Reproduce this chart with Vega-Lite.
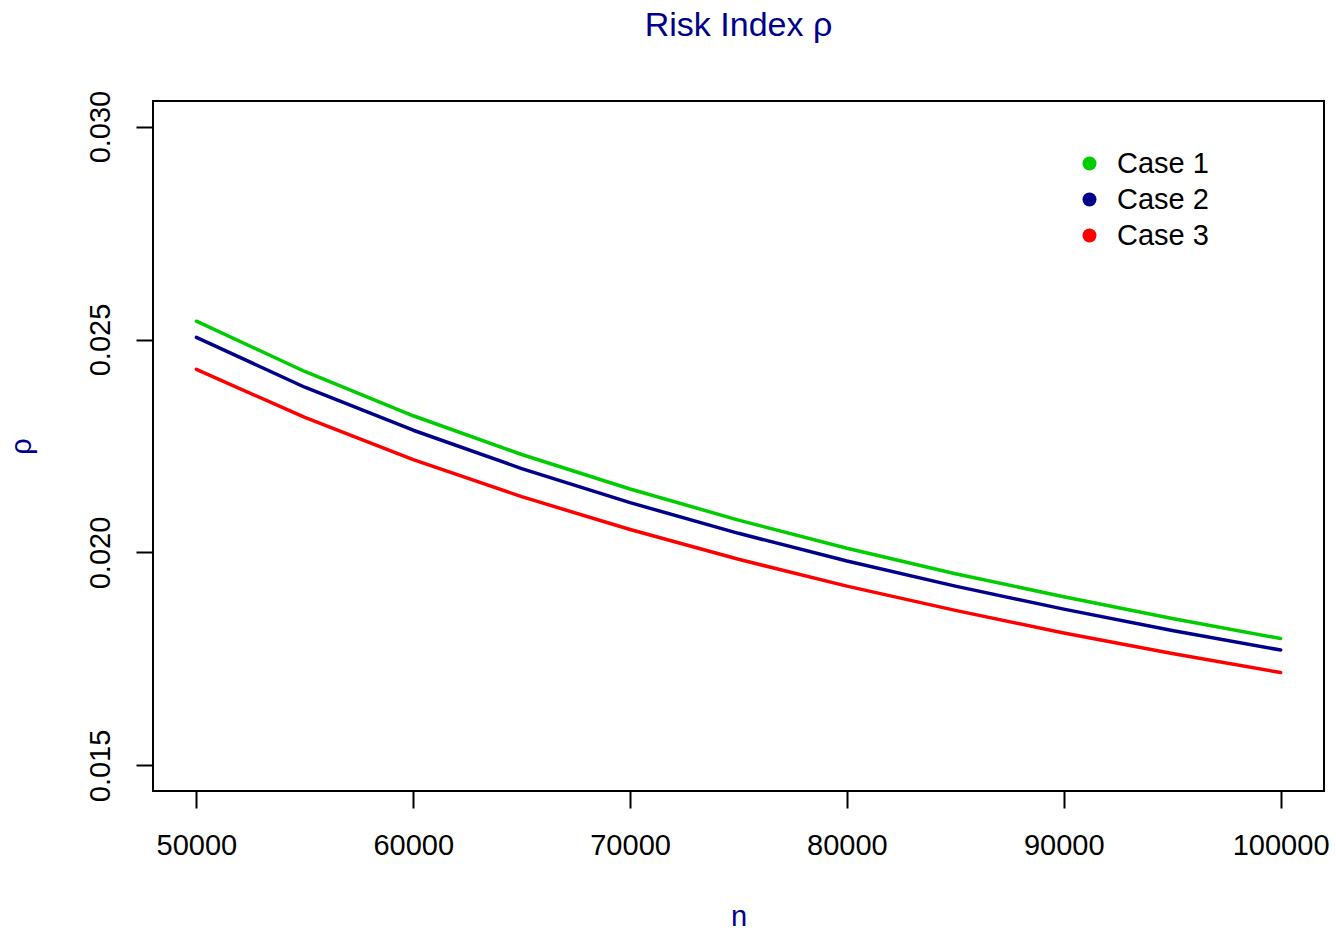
{
  "$schema": "https://vega.github.io/schema/vega-lite/v6.json",
  "autosize": {"type": "none"},
  "width": 1171,
  "height": 690,
  "padding": {"left": 153, "top": 101, "right": 12, "bottom": 142},
  "background": "white",
  "config": {
    "font": "Liberation Sans",
    "view": {"stroke": "black", "strokeWidth": 2},
    "axis": {
      "domain": false,
      "grid": false,
      "ticks": true,
      "tickColor": "black",
      "tickWidth": 2,
      "tickSize": 17,
      "labelColor": "black",
      "labelFontSize": 29,
      "labelFont": "Liberation Sans",
      "titleFont": "Liberation Sans",
      "titleFontSize": 29,
      "titleFontWeight": "normal",
      "titleColor": "#00008B",
      "labelOverlap": false,
      "labelFlush": false
    }
  },
  "title": {
    "text": "Risk Index ρ",
    "fontSize": 34,
    "fontWeight": "normal",
    "color": "#00008B",
    "font": "Liberation Sans",
    "anchor": "middle",
    "offset": 47
  },
  "data": {
    "values": [
      {"n": 50000, "rho": 0.02543, "case": "Case 1"},
      {"n": 55000, "rho": 0.02425, "case": "Case 1"},
      {"n": 60000, "rho": 0.02321, "case": "Case 1"},
      {"n": 65000, "rho": 0.02230, "case": "Case 1"},
      {"n": 70000, "rho": 0.02149, "case": "Case 1"},
      {"n": 75000, "rho": 0.02076, "case": "Case 1"},
      {"n": 80000, "rho": 0.02010, "case": "Case 1"},
      {"n": 85000, "rho": 0.01950, "case": "Case 1"},
      {"n": 90000, "rho": 0.01896, "case": "Case 1"},
      {"n": 95000, "rho": 0.01845, "case": "Case 1"},
      {"n": 100000, "rho": 0.01798, "case": "Case 1"},
      {"n": 50000, "rho": 0.02505, "case": "Case 2"},
      {"n": 55000, "rho": 0.02388, "case": "Case 2"},
      {"n": 60000, "rho": 0.02287, "case": "Case 2"},
      {"n": 65000, "rho": 0.02197, "case": "Case 2"},
      {"n": 70000, "rho": 0.02117, "case": "Case 2"},
      {"n": 75000, "rho": 0.02045, "case": "Case 2"},
      {"n": 80000, "rho": 0.01980, "case": "Case 2"},
      {"n": 85000, "rho": 0.01921, "case": "Case 2"},
      {"n": 90000, "rho": 0.01867, "case": "Case 2"},
      {"n": 95000, "rho": 0.01817, "case": "Case 2"},
      {"n": 100000, "rho": 0.01771, "case": "Case 2"},
      {"n": 50000, "rho": 0.02430, "case": "Case 3"},
      {"n": 55000, "rho": 0.02317, "case": "Case 3"},
      {"n": 60000, "rho": 0.02218, "case": "Case 3"},
      {"n": 65000, "rho": 0.02131, "case": "Case 3"},
      {"n": 70000, "rho": 0.02054, "case": "Case 3"},
      {"n": 75000, "rho": 0.01984, "case": "Case 3"},
      {"n": 80000, "rho": 0.01921, "case": "Case 3"},
      {"n": 85000, "rho": 0.01864, "case": "Case 3"},
      {"n": 90000, "rho": 0.01811, "case": "Case 3"},
      {"n": 95000, "rho": 0.01763, "case": "Case 3"},
      {"n": 100000, "rho": 0.01718, "case": "Case 3"}
    ]
  },
  "mark": {"type": "line", "strokeWidth": 3.5, "strokeCap": "round", "strokeJoin": "round"},
  "encoding": {
    "x": {
      "field": "n",
      "type": "quantitative",
      "title": "n",
      "scale": {"domain": [48000, 102000], "nice": false, "zero": false},
      "axis": {
        "values": [50000, 60000, 70000, 80000, 90000, 100000],
        "format": "d",
        "labelPadding": 23,
        "titlePadding": 42
      }
    },
    "y": {
      "field": "rho",
      "type": "quantitative",
      "title": "ρ",
      "scale": {"domain": [0.0144, 0.0306], "nice": false, "zero": false},
      "axis": {
        "values": [0.015, 0.02, 0.025, 0.03],
        "format": ".3f",
        "labelAngle": 270,
        "labelAlign": "center",
        "labelBaseline": "alphabetic",
        "labelPadding": 27,
        "titlePadding": 50
      }
    },
    "color": {
      "field": "case",
      "type": "nominal",
      "scale": {"domain": ["Case 1", "Case 2", "Case 3"], "range": ["#00CD00", "#00008B", "#FF0000"]},
      "legend": {
        "title": null,
        "orient": "none",
        "legendX": 922,
        "legendY": 48,
        "padding": 0,
        "symbolType": "circle",
        "symbolSize": 196,
        "symbolStrokeWidth": 0,
        "labelFontSize": 29,
        "labelColor": "black",
        "labelFont": "Liberation Sans",
        "labelOffset": 13,
        "rowPadding": 6,
        "encode": {
          "symbols": {"update": {"fill": {"scale": "color", "field": "value"}, "opacity": {"value": 1}}}
        }
      }
    }
  }
}
